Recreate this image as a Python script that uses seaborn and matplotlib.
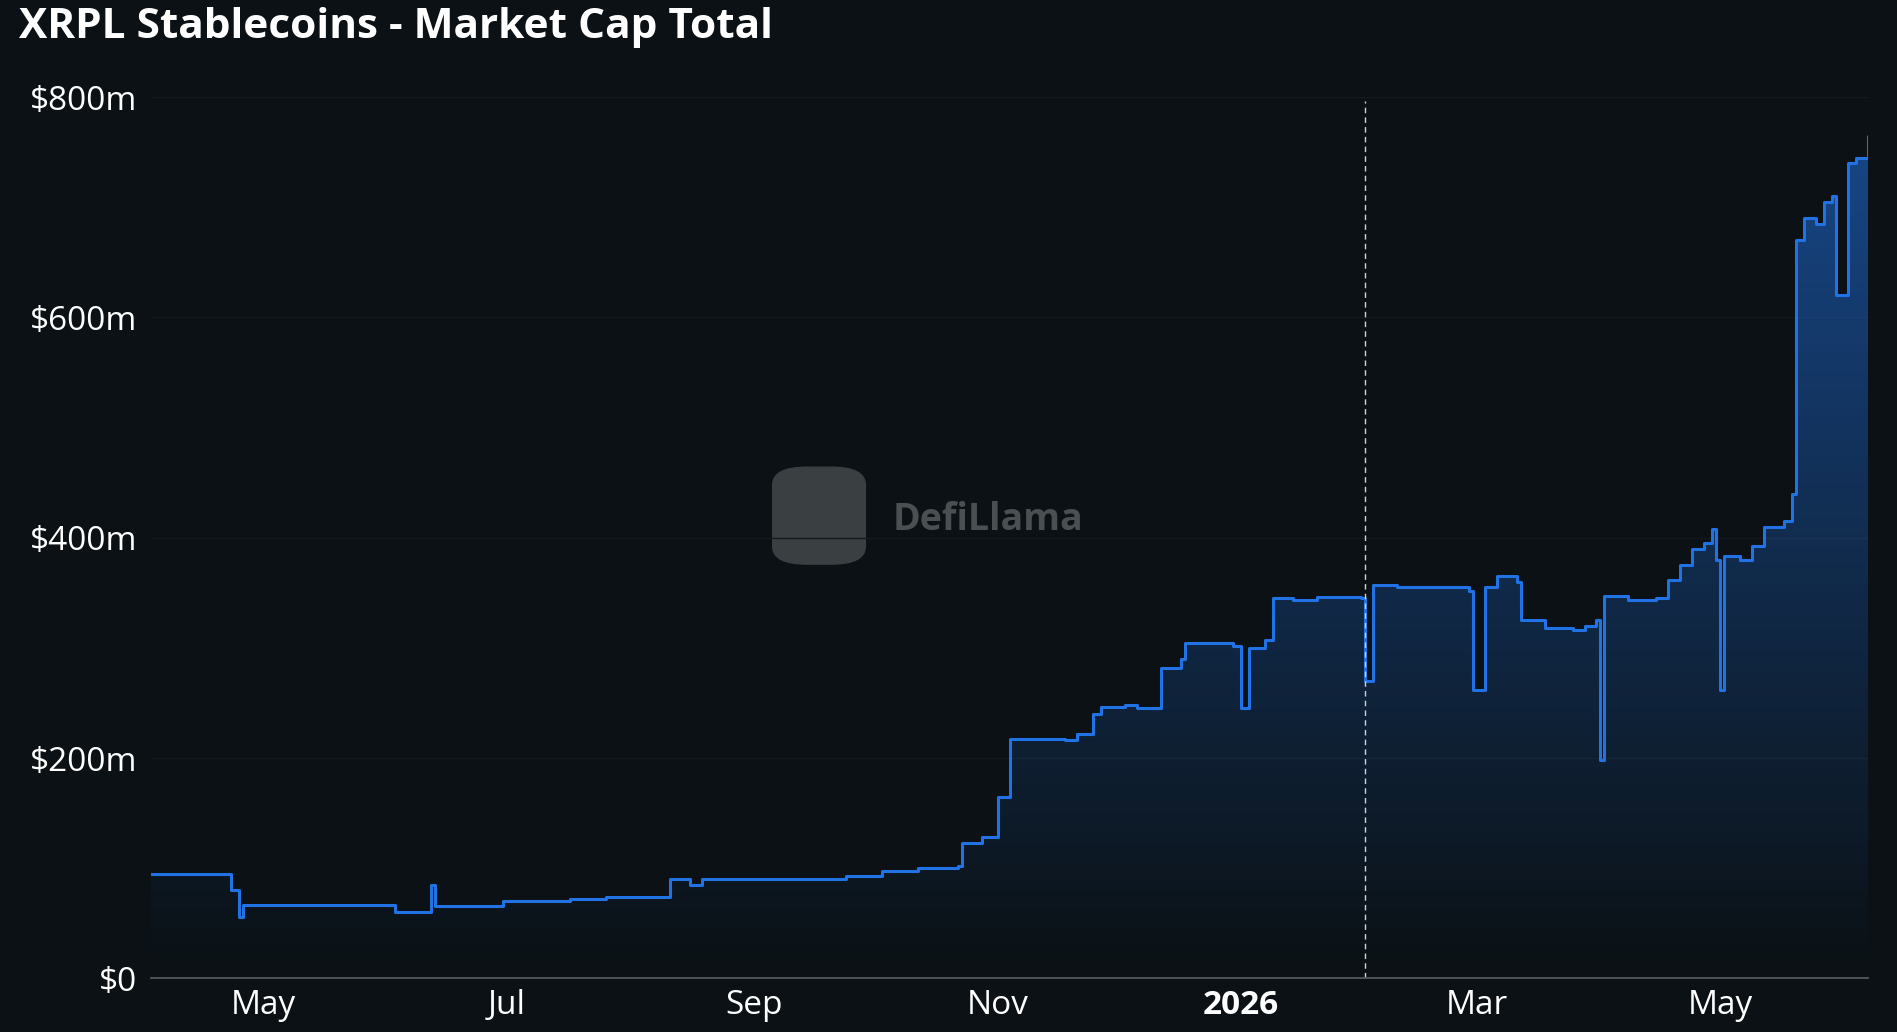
import matplotlib
matplotlib.use("Agg")
import matplotlib.pyplot as plt
import matplotlib.dates as mdates
import seaborn as sns
import numpy as np
import pandas as pd

start_date = "2025-04-03"
day_offsets = [0, 20, 22, 23, 61, 70, 71, 72, 88, 105, 114, 130, 135, 138, 174, 183, 192, 202, 203,
               208, 212, 215, 229, 232, 236, 238, 244, 247, 253, 258, 259, 271, 273, 275, 279, 281,
               286, 292, 303, 304, 306, 312, 330, 331, 334, 337, 342, 343, 349, 356, 359, 362, 363,
               364, 370, 377, 380, 383, 386, 389, 391, 392, 393, 394, 398, 401, 404, 409, 411, 412,
               414, 417, 419, 421, 422, 424, 425, 427, 430]
market_cap_m = [94.5, 80, 56, 67, 60, 85, 66, 66, 70, 72, 74, 90, 85, 90, 93, 97, 100, 102, 123,
                128, 165, 217, 216, 222, 240, 246, 248, 245, 282, 290, 304, 302, 245, 300, 307, 345,
                343, 346, 345, 270, 357, 355, 352, 262, 355, 365, 360, 325, 318, 316, 320, 325, 198,
                347, 343, 345, 362, 375, 390, 395, 408, 380, 262, 383, 380, 392, 410, 415, 440, 670,
                690, 685, 705, 710, 620, 620, 740, 745, 765]
y_ticks = [0, 200, 400, 600, 800]
y_tick_labels = ["$0", "$200m", "$400m", "$600m", "$800m"]
x_ticks = ["2025-05-01", "2025-07-01", "2025-09-01", "2025-11-01", "2026-01-01", "2026-03-01", "2026-05-01"]
x_tick_labels = ["May", "Jul", "Sep", "Nov", "2026", "Mar", "May"]
marker_date = "2026-02-01"

dates = pd.to_datetime(start_date) + pd.to_timedelta(day_offsets, unit="D")
df = pd.DataFrame({"date": dates, "mcap": market_cap_m})

bg = "#0b1114"
line_c = "#2172e5"
sns.set_theme(style="dark")
plt.rcParams["font.family"] = ["Open Sans", "DejaVu Sans"]

fig = plt.figure(figsize=(18.97, 10.32), dpi=100, facecolor=bg)
ax = fig.add_axes([0.0797, 0.052, 0.905, 0.854])
ax.set_facecolor(bg)

sns.lineplot(data=df, x="date", y="mcap", ax=ax, color=line_c, linewidth=2.2, drawstyle="steps-post")

xs = mdates.date2num(df["date"])
sx = np.repeat(xs, 2)[1:]
sy = np.repeat(df["mcap"].values, 2)[:-1]
poly = ax.fill_between(sx, sy, 0, color="none")
grad = np.zeros((256, 1, 4))
grad[:, 0, :3] = matplotlib.colors.to_rgb(line_c)
grad[:, 0, 3] = np.linspace(0.55, 0.0, 256)
xmin, xmax = xs[0], xs[-1]
ymax = max(market_cap_m)
im = ax.imshow(grad, aspect="auto", extent=[xmin, xmax, 0, ymax], origin="upper", zorder=1)
im.set_clip_path(poly.get_paths()[0], transform=ax.transData)

ax.set_xlim(xmin, xmax)
ax.set_ylim(0, 800)
ax.set_yticks(y_ticks)
ax.set_yticklabels(y_tick_labels)
ax.set_xticks(mdates.date2num(pd.to_datetime(x_ticks)))
ax.set_xticklabels(x_tick_labels)
for lab in ax.get_xticklabels():
    if lab.get_text() == "2026":
        lab.set_fontweight("bold")
ax.tick_params(colors="white", labelsize=24, length=0, pad=8)
ax.tick_params(axis="y", pad=10)
ax.set_xlabel("")
ax.set_ylabel("")
ax.grid(axis="y", color="#141b1e", linewidth=1)
ax.grid(axis="x", visible=False)
for s in ["top", "right", "left"]:
    ax.spines[s].set_visible(False)
ax.spines["bottom"].set_color("#555b5e")

ax.axvline(mdates.date2num(pd.to_datetime(marker_date)), ymin=0, ymax=0.995,
           color="#cfd3d6", linestyle=(0, (4, 3)), linewidth=1)

ax.text(0.432, 0.52, "DefiLlama", transform=ax.transAxes, color="#4a4f52", fontsize=27,
        fontweight="bold", ha="left", va="center", zorder=0.5)
ax.add_patch(matplotlib.patches.FancyBboxPatch((0.362, 0.47), 0.054, 0.11, transform=ax.transAxes,
             boxstyle="round,pad=0,rounding_size=0.02", color="#3a3f42", zorder=0.5))

fig.text(0.01, 0.973, "XRPL Stablecoins - Market Cap Total", color="white", fontsize=30.5,
         fontweight="bold", ha="left", va="center")

fig.savefig("out.png", dpi=100, facecolor=bg)
